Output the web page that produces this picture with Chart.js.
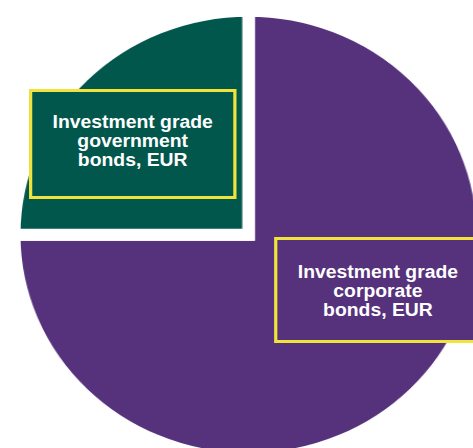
<!DOCTYPE html>
<html>
<head>
<meta charset="utf-8">
<script src="https://cdn.jsdelivr.net/npm/chart.js@4.4.1/dist/chart.umd.min.js"></script>
<style>
  html, body { margin: 0; padding: 0; background: #ffffff; }
  body { width: 473px; height: 448px; overflow: hidden; position: relative; }
  #wrap { position: absolute; left: 0; top: 0; width: 600px; height: 600px; transform-origin: 0 0; }
  #labels { position: absolute; left: 0; top: 0; width: 600px; height: 600px;
            transform: scale(1.075, 1); transform-origin: 0 0; }
  #chart { position: absolute; left: 0; top: 0; }
  .lbl { position: absolute; box-sizing: border-box; border: 3px solid #F0E43C;
         color: #ffffff; font-family: 'Liberation Sans', Arial, sans-serif; font-weight: bold;
         font-size: 18px; line-height: 19px; text-align: center; white-space: nowrap; }
</style>
</head>
<body>
<div id="wrap">
  <canvas id="chart"></canvas>
</div>
<div id="labels"></div>
<script>
// ---- data ----
const categories = ['Investment grade corporate bonds, EUR', 'Investment grade government bonds, EUR'];
const labelLines = [
  ['Investment grade', 'corporate', 'bonds, EUR'],
  ['Investment grade', 'government', 'bonds, EUR']
];
const shares = [75, 25];
const colors = ['#56317C', '#02574C'];

// ---- geometry / style ----
const CX = 248.5, CY = 234.75;  // pie centre in page pixels
const R_VIS = 218;              // visible radius (vertical)
const R_VIS_X = 228;            // visible radius (horizontal)
const SX = R_VIS_X / R_VIS;     // horizontal stretch of the pie
const GAP = 12;                 // white gap between slices
const W = 600, H = 600;
const cxu = CX / SX;
document.getElementById('wrap').style.transform = `scale(${SX}, 1)`;

const chart = new Chart(document.getElementById('chart'), {
  type: 'pie',
  data: {
    labels: categories,
    datasets: [{
      data: shares,
      backgroundColor: colors,
      borderColor: '#ffffff',
      borderWidth: GAP,
      borderJoinStyle: 'miter',
      hoverOffset: 0
    }]
  },
  options: {
    responsive: true,
    maintainAspectRatio: false,
    animation: false,
    events: [],
    radius: R_VIS + GAP / 2,
    layout: { padding: { left: 0, top: 0, right: W - 2 * cxu, bottom: H - 2 * CY } },
    plugins: { legend: { display: false }, tooltip: { enabled: false } }
  }
});

// ---- label boxes (HTML text) ----
const boxes = [
  { idx: 0, left: 254.9, top: 236.7, width: 193.4, height: 106.6, padTop: 23.5 },
  { idx: 1, left: 27.3, top: 88.7, width: 192.3, height: 110.6, padTop: 21.8 }
];
const lab = document.getElementById('labels');
boxes.forEach(b => {
  const d = document.createElement('div');
  d.className = 'lbl';
  d.style.left = b.left + 'px';
  d.style.top = b.top + 'px';
  d.style.width = b.width + 'px';
  d.style.height = b.height + 'px';
  d.style.paddingTop = b.padTop + 'px';
  d.style.background = colors[b.idx];
  d.innerHTML = labelLines[b.idx].join('<br>');
  lab.appendChild(d);
});
</script>
</body>
</html>
